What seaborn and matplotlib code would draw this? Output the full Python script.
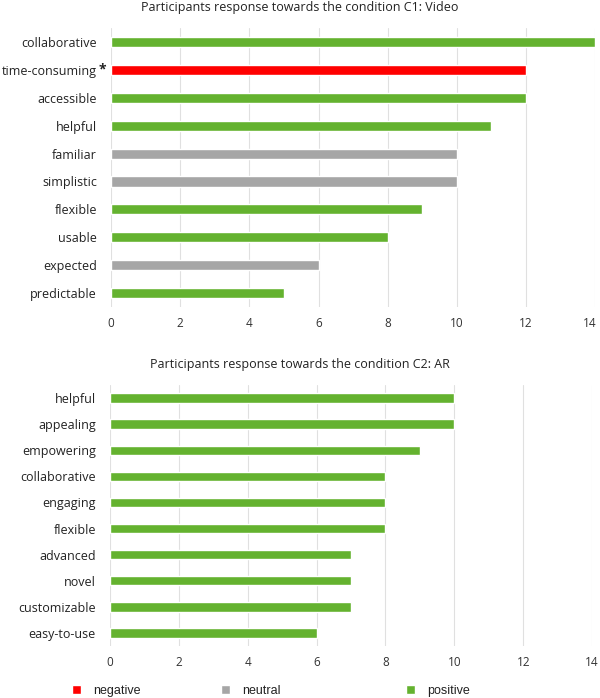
import matplotlib
matplotlib.use("Agg")
import matplotlib.pyplot as plt
import matplotlib.transforms as mtransforms
import seaborn as sns
import pandas as pd
from matplotlib.patches import Patch

sns.set_theme(style="white")
plt.rcParams['font.family'] = ['Open Sans', 'DejaVu Sans']

# Data
c1_labels = ["collaborative", "time-consuming", "accessible", "helpful", "familiar",
             "simplistic", "flexible", "usable", "expected", "predictable"]
c1_values = [14, 12, 12, 11, 10, 10, 9, 8, 6, 5]
c1_sentiment = ["positive", "negative", "positive", "positive", "neutral",
                "neutral", "positive", "positive", "neutral", "positive"]

c2_labels = ["helpful", "appealing", "empowering", "collaborative", "engaging",
             "flexible", "advanced", "novel", "customizable", "easy-to-use"]
c2_values = [10, 10, 9, 8, 8, 8, 7, 7, 7, 6]
c2_sentiment = ["positive"] * 10

titles = ["Participants response towards the condition C1: Video",
          "Participants response towards the condition C2: AR"]
ticks = [0, 2, 4, 6, 8, 10, 12, 14]
palette = {"negative": "#ff0000", "neutral": "#a6a6a6", "positive": "#64b22f"}
legend_order = ["negative", "neutral", "positive"]

fig = plt.figure(figsize=(6.0, 6.98), dpi=100)
ax1 = fig.add_axes([0.185, 0.560, 0.807, 0.400])
ax2 = fig.add_axes([0.183, 0.0745, 0.804, 0.374])

for ax, labels, values, sent in [
        (ax1, c1_labels, c1_values, c1_sentiment),
        (ax2, c2_labels, c2_values, c2_sentiment)]:
    df = pd.DataFrame({"label": labels, "value": values, "sentiment": sent})
    sns.barplot(data=df, y="label", x="value", hue="sentiment", palette=palette,
                dodge=False, width=0.36, orient="h", ax=ax, legend=False,
                order=labels, saturation=1)
    ax.set_xlim(0, 14)
    ax.set_xticks(ticks)
    ax.set_xticklabels([str(t) for t in ticks], fontsize=8.5, color="#333333")
    ax.set_ylabel("")
    ax.set_xlabel("")
    ax.tick_params(axis="y", labelsize=9, colors="#222222", length=0, pad=10)
    ax.tick_params(axis="x", length=0, pad=7)
    ax.grid(axis="x", color="#e0e0e0", linewidth=0.8)
    ax.set_axisbelow(True)
    for s in ax.spines.values():
        s.set_visible(False)

# nudge the last tick label of the top panel so it stays inside the figure
last = ax1.get_xticklabels()[-1]
last.set_transform(last.get_transform() +
                   mtransforms.ScaledTranslation(-4 / 72, 0, fig.dpi_scale_trans))

fig.text(0.5, 1 - 7 / 698, titles[0], ha="center", va="center", fontsize=9, color="#222222")
fig.text(0.5, 1 - 365 / 698, titles[1], ha="center", va="center", fontsize=9, color="#222222")

# asterisk after time-consuming
ax1.text(-0.025, 1, "*", transform=ax1.get_yaxis_transform(), ha="left", va="center",
         fontsize=10, fontweight="bold", color="#222222")

legend_x = {"negative": 72, "neutral": 221, "positive": 406}
for k in legend_order:
    leg = fig.legend(handles=[Patch(facecolor=palette[k], label=k)], loc="center left",
                     bbox_to_anchor=(legend_x[k] / 600, 1 - 691 / 698),
                     frameon=False, handlelength=0.7, handleheight=0.7,
                     handletextpad=1.0, borderpad=0, borderaxespad=0,
                     prop={"family": "Liberation Sans", "size": 9})
    for t in leg.get_texts():
        t.set_color("#222222")

fig.savefig("out.png", dpi=100)
